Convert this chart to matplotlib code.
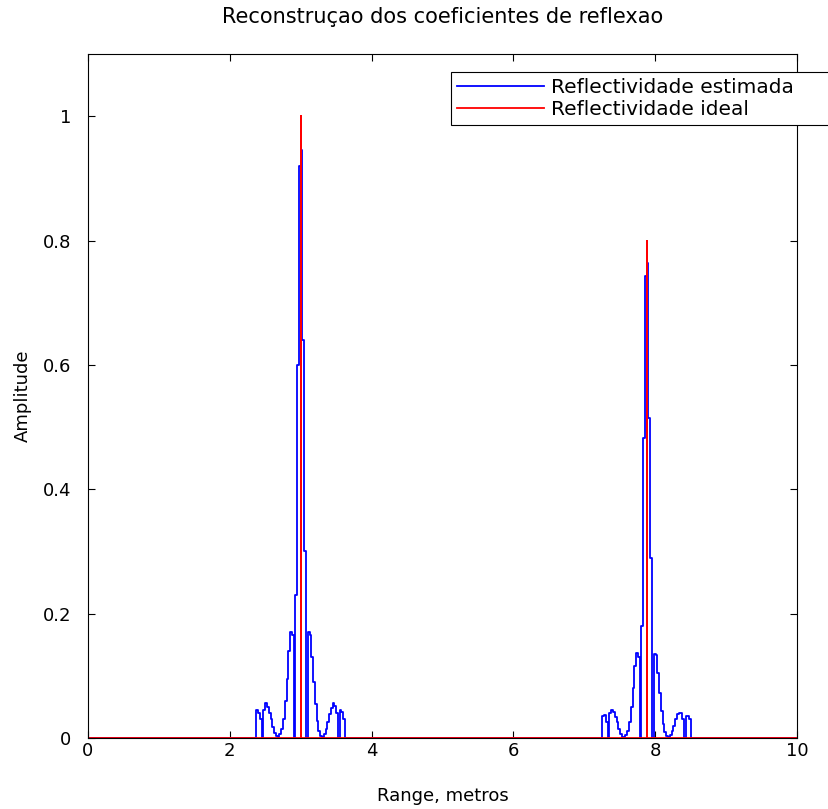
import numpy as np
import matplotlib
matplotlib.use("Agg")
import matplotlib.pyplot as plt

plt.rcParams['font.family'] = ['DejaVu Sans']
plt.rcParams['font.size'] = 13

# ideal reflectors
ideal_pos = [3.0, 7.88]
ideal_amp = [1.0, 0.8]

# estimated reflectivity, sampled every 0.025 m around each reflector
est_offsets = np.round(np.arange(-0.65, 0.651, 0.025), 3)
est_peak1 = [0, 0.045, 0.040, 0.030, 0.000, 0.045, 0.056, 0.050, 0.040, 0.030,
             0.018, 0.008, 0.003, 0.002, 0.006, 0.015, 0.030, 0.060, 0.095, 0.140,
             0.170, 0.165, 0.000, 0.230, 0.600, 0.920,
             0.945, 0.640, 0.300, 0.000, 0.170, 0.165, 0.130, 0.090, 0.055, 0.028,
             0.012, 0.004, 0.002, 0.006, 0.015, 0.026, 0.038, 0.048, 0.056, 0.052,
             0.040, 0.000, 0.045, 0.042, 0.030, 0.000, 0]
est_peak2 = [0, 0.035, 0.037, 0.025, 0.000, 0.040, 0.045, 0.042, 0.034, 0.025,
             0.015, 0.007, 0.002, 0.002, 0.005, 0.012, 0.025, 0.050, 0.080, 0.115,
             0.137, 0.130, 0.000, 0.180, 0.482, 0.743,
             0.764, 0.514, 0.290, 0.000, 0.135, 0.133, 0.105, 0.072, 0.044, 0.022,
             0.010, 0.003, 0.002, 0.005, 0.012, 0.020, 0.030, 0.038, 0.041, 0.040,
             0.030, 0.000, 0.035, 0.035, 0.030, 0.000, 0]

x_est = np.concatenate([[0.0], ideal_pos[0] + est_offsets, ideal_pos[1] + est_offsets, [10.0]])
y_est = np.concatenate([[0.0], est_peak1, est_peak2, [0.0]])

x_id = [0.0]
y_id = [0.0]
for p, a in zip(ideal_pos, ideal_amp):
    x_id += [p, p, p]
    y_id += [0.0, a, 0.0]
x_id.append(10.0)
y_id.append(0.0)

fig = plt.figure(figsize=(8.29, 8.09), dpi=100)
ax = fig.add_axes([88/829, 71/809, 709/829, 684/809])

ax.step(x_est, y_est, where='post', color='blue', lw=1.3, label='Reflectividade estimada')
ax.plot(x_id, y_id, color='red', lw=1.3, label='Reflectividade ideal')

ax.set_xlim(0, 10)
ax.set_ylim(0, 1.1)
ax.set_xticks([0, 2, 4, 6, 8, 10])
ax.set_xticklabels(['0', '2', '4', '6', '8', '10'])
ax.set_yticks([0, 0.2, 0.4, 0.6, 0.8, 1.0])
ax.set_yticklabels(['0', '0.2', '0.4', '0.6', '0.8', '1'])
ax.tick_params(direction='in', top=True, right=True, length=5)
ax.tick_params(axis='x', pad=3)
ax.tick_params(axis='y', pad=12)
for s in ax.spines.values():
    s.set_linewidth(0.8)

ax.set_title('Reconstruçao dos coeficientes de reflexao', fontsize=15, pad=22)
ax.set_xlabel('Range, metros', labelpad=19)
ax.set_ylabel('Amplitude', labelpad=8)

# legend box runs past the right edge of the figure, as in the original
leg = ax.legend(loc='upper left', bbox_to_anchor=(451/829, 1 - 72/809 - 53/809, 440/829, 53/809),
                bbox_transform=fig.transFigure, mode='expand', fancybox=False, framealpha=1,
                edgecolor='black', handlelength=4.3, borderaxespad=0,
                borderpad=0.3, labelspacing=0.15, handletextpad=0.35,
                prop={'size': 14.5})
leg.get_frame().set_linewidth(0.8)
leg.set_clip_on(False)

fig.savefig('out.png', dpi=100)
